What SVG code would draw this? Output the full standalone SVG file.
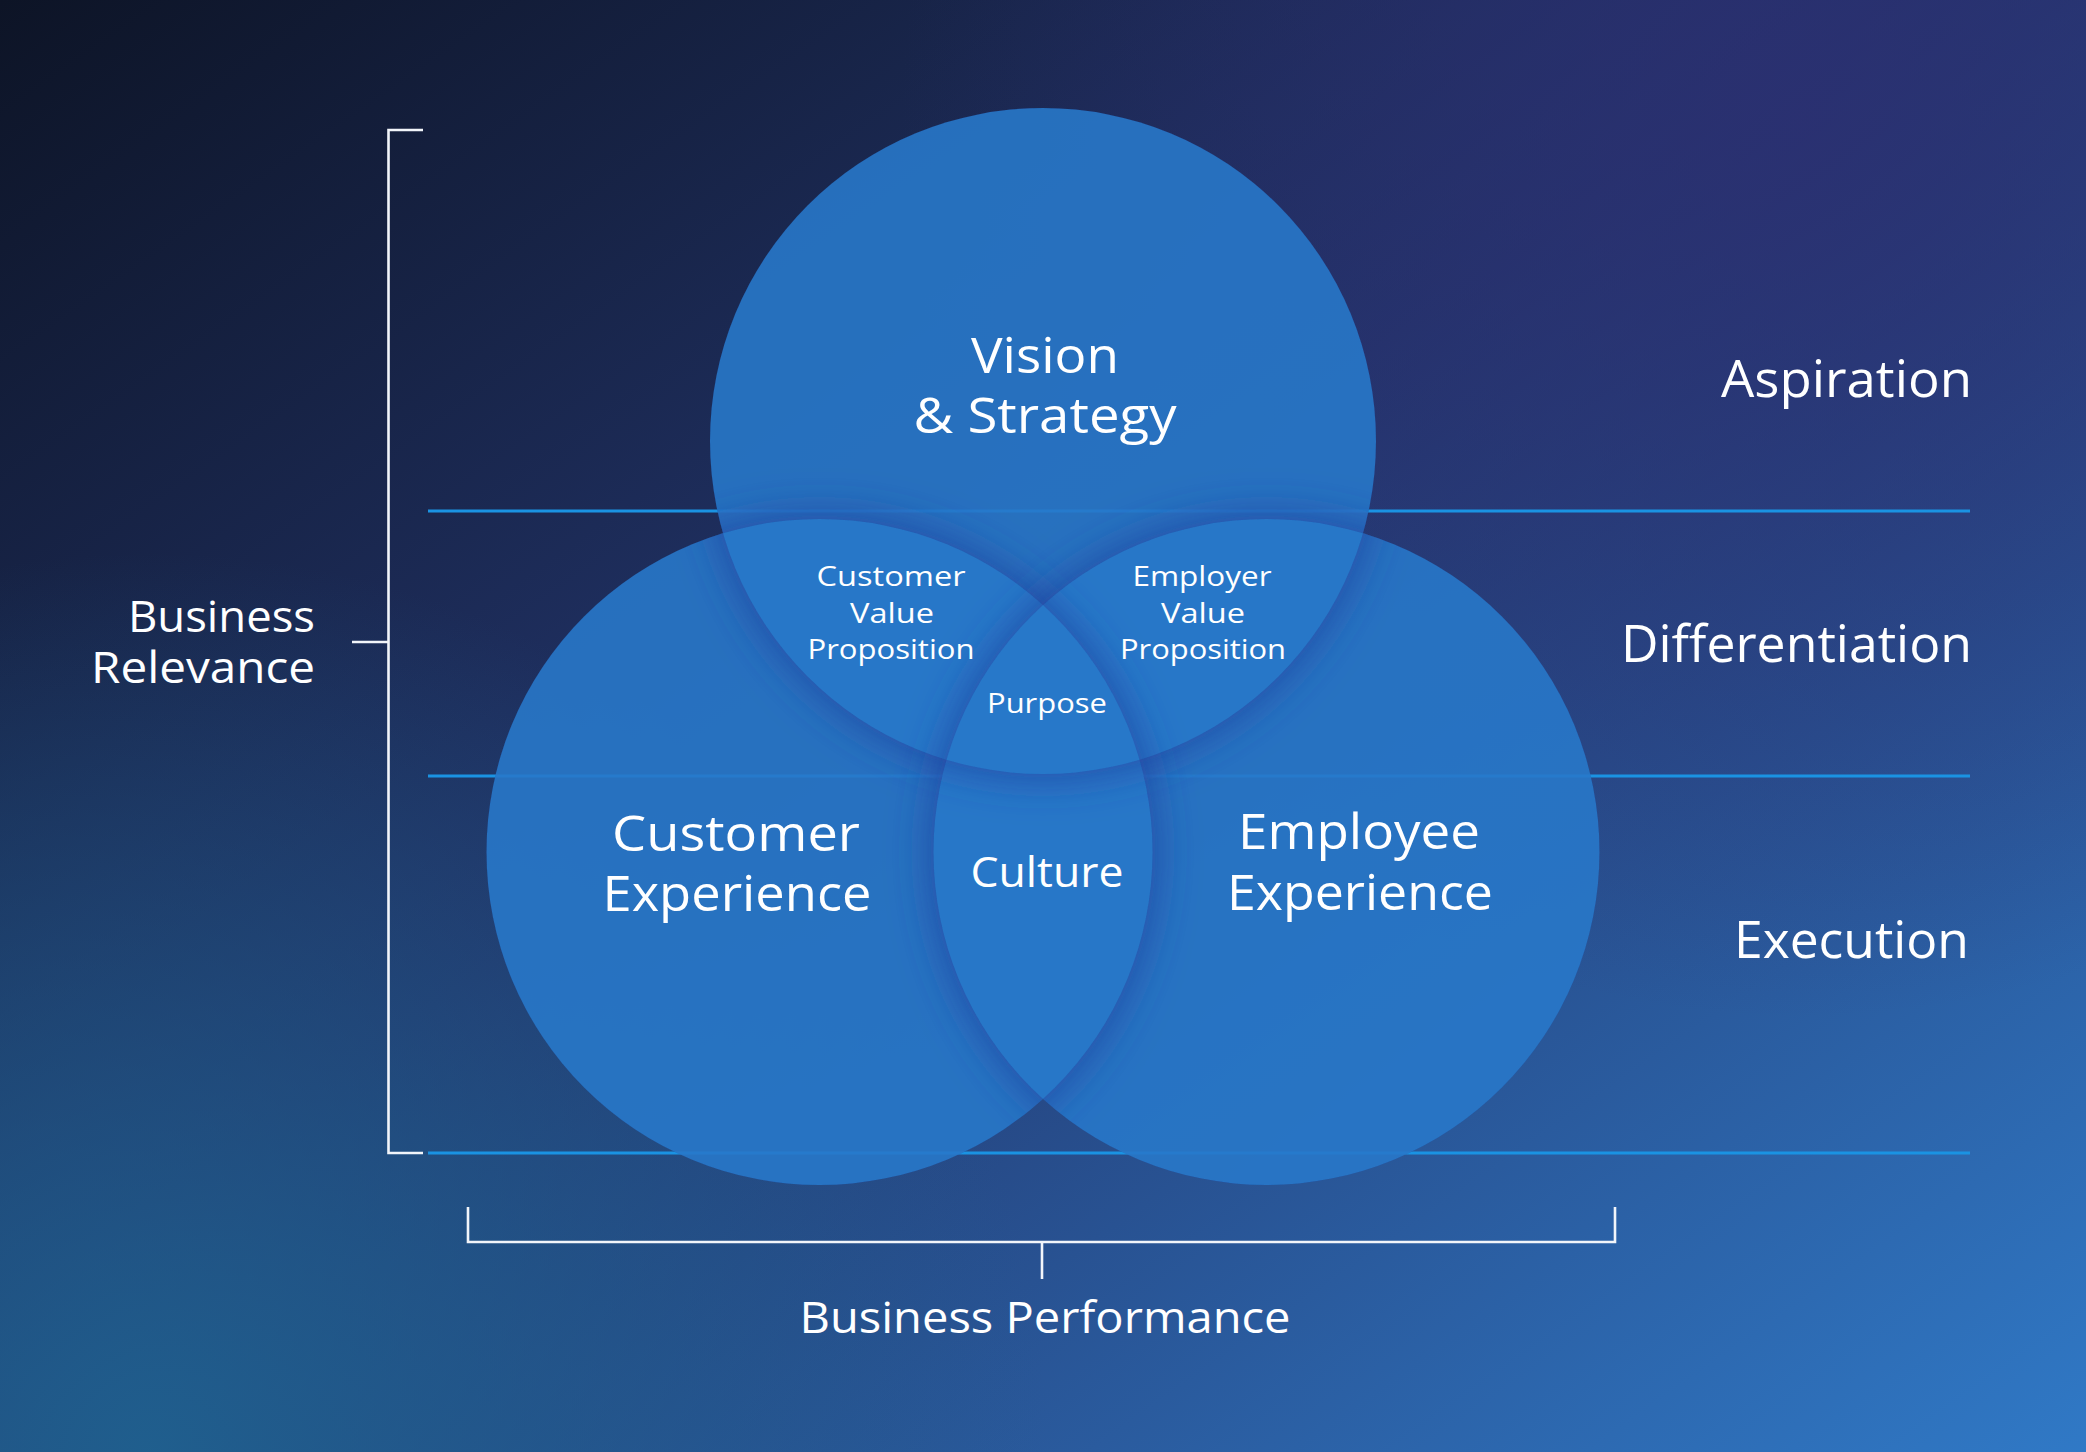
<svg xmlns="http://www.w3.org/2000/svg" width="2086" height="1452" viewBox="0 0 2086 1452">
<defs>
<linearGradient id="bg" x1="0" y1="0" x2="1" y2="1">
<stop offset="0" stop-color="#0d1426"/>
<stop offset="0.45" stop-color="#22346a"/>
<stop offset="1" stop-color="#3079c6"/>
</linearGradient>
<radialGradient id="bgTR" cx="1800" cy="120" r="900" gradientUnits="userSpaceOnUse">
<stop offset="0" stop-color="#2c2f72" stop-opacity="0.8"/>
<stop offset="1" stop-color="#2c2f72" stop-opacity="0"/>
</radialGradient>
<radialGradient id="bgBL" cx="150" cy="1452" r="900" gradientUnits="userSpaceOnUse">
<stop offset="0" stop-color="#1f6290" stop-opacity="0.9"/>
<stop offset="1" stop-color="#1f6290" stop-opacity="0"/>
</radialGradient>
<filter id="outerShadow" x="-20%" y="-20%" width="140%" height="140%">
<feGaussianBlur in="SourceAlpha" stdDeviation="22" result="b"/>
<feComposite in="b" in2="SourceAlpha" operator="out" result="o"/>
<feFlood flood-color="#22409e" flood-opacity="0.85"/>
<feComposite in2="o" operator="in"/>
</filter>
<clipPath id="unionClip">
<circle cx="1043" cy="441" r="333"/>
<circle cx="819.5" cy="852" r="333"/>
<circle cx="1266.5" cy="852" r="333"/>
</clipPath>
</defs>
<style>
.circ { fill: #2878c9; fill-opacity: 0.9; }
.shade { fill: #000; }
.band { stroke: #1a93e3; stroke-width: 3; fill: none; }
.brk { stroke: #f2f5fa; stroke-width: 2.6; fill: none; }
text { font-family: "Open Sans", "Noto Sans", sans-serif; fill: #ffffff; font-weight: 400; }
.big { font-size: 50px; text-anchor: middle; }
.mid { font-size: 42px; text-anchor: middle; }
.small { font-size: 27px; text-anchor: middle; }
.side { font-size: 52px; text-anchor: end; }
.axis { font-size: 43px; }
</style>
<rect width="2086" height="1452" fill="url(#bg)"/>
<rect width="2086" height="1452" fill="url(#bgTR)"/>
<rect width="2086" height="1452" fill="url(#bgBL)"/>

<g id="connectors">
<line class="band" x1="428" y1="511" x2="1970" y2="511"/>
<line class="band" x1="428" y1="776" x2="1970" y2="776"/>
<line class="band" x1="428" y1="1153" x2="1970" y2="1153"/>
</g>

<g id="circles">
<circle id="circle-vision" class="circ" cx="1043" cy="441" r="333"/>
<circle id="circle-customer" class="circ" cx="819.5" cy="852" r="333"/>
<circle id="circle-employee" class="circ" cx="1266.5" cy="852" r="333"/>
</g>
<g id="circle-shadows" clip-path="url(#unionClip)">
<circle class="shade" cx="1043" cy="441" r="333" filter="url(#outerShadow)"/>
<circle class="shade" cx="819.5" cy="852" r="333" filter="url(#outerShadow)"/>
<circle class="shade" cx="1266.5" cy="852" r="333" filter="url(#outerShadow)"/>
</g>

<g id="brackets">
<path class="brk" d="M423,130 H388.5 V1153 H423"/>
<path class="brk" d="M352,642 H388.5"/>
<path class="brk" d="M468,1207 V1242 H1615 V1207"/>
<path class="brk" d="M1042,1242 V1279"/>
</g>

<g id="node-vision">
<text class="big" x="1045" y="373" textLength="148" lengthAdjust="spacingAndGlyphs">Vision</text>
<text class="big" x="1045" y="433" textLength="263" lengthAdjust="spacingAndGlyphs">&amp; Strategy</text>
</g>
<g id="node-customer-experience">
<text class="big" x="736" y="851" textLength="248" lengthAdjust="spacingAndGlyphs">Customer</text>
<text class="big" x="737" y="911" textLength="269" lengthAdjust="spacingAndGlyphs">Experience</text>
</g>
<g id="node-employee-experience">
<text class="big" x="1359" y="849" textLength="242" lengthAdjust="spacingAndGlyphs">Employee</text>
<text class="big" x="1360" y="910" textLength="266" lengthAdjust="spacingAndGlyphs">Experience</text>
</g>
<g id="node-culture">
<text class="mid" x="1047" y="887" textLength="153" lengthAdjust="spacingAndGlyphs">Culture</text>
</g>
<g id="node-cvp">
<text class="small" x="891" y="586" textLength="149" lengthAdjust="spacingAndGlyphs">Customer</text>
<text class="small" x="892" y="623" textLength="84" lengthAdjust="spacingAndGlyphs">Value</text>
<text class="small" x="891" y="659" textLength="167" lengthAdjust="spacingAndGlyphs">Proposition</text>
</g>
<g id="node-evp">
<text class="small" x="1202" y="586" textLength="139" lengthAdjust="spacingAndGlyphs">Employer</text>
<text class="small" x="1203" y="623" textLength="84" lengthAdjust="spacingAndGlyphs">Value</text>
<text class="small" x="1203" y="659" textLength="166" lengthAdjust="spacingAndGlyphs">Proposition</text>
</g>
<g id="node-purpose">
<text class="small" x="1047" y="713" textLength="120" lengthAdjust="spacingAndGlyphs">Purpose</text>
</g>
<g id="labels">
<text class="side" x="1972" y="397" textLength="251" lengthAdjust="spacingAndGlyphs">Aspiration</text>
<text class="side" x="1972" y="662" textLength="351" lengthAdjust="spacingAndGlyphs">Differentiation</text>
<text class="side" x="1969" y="958" textLength="235" lengthAdjust="spacingAndGlyphs">Execution</text>
<text class="axis" x="315" y="632" text-anchor="end" textLength="187" lengthAdjust="spacingAndGlyphs">Business</text>
<text class="axis" x="315" y="683" text-anchor="end" textLength="224" lengthAdjust="spacingAndGlyphs">Relevance</text>
<text class="axis" x="1045" y="1333" text-anchor="middle" textLength="491" lengthAdjust="spacingAndGlyphs">Business Performance</text>
</g>
</svg>
